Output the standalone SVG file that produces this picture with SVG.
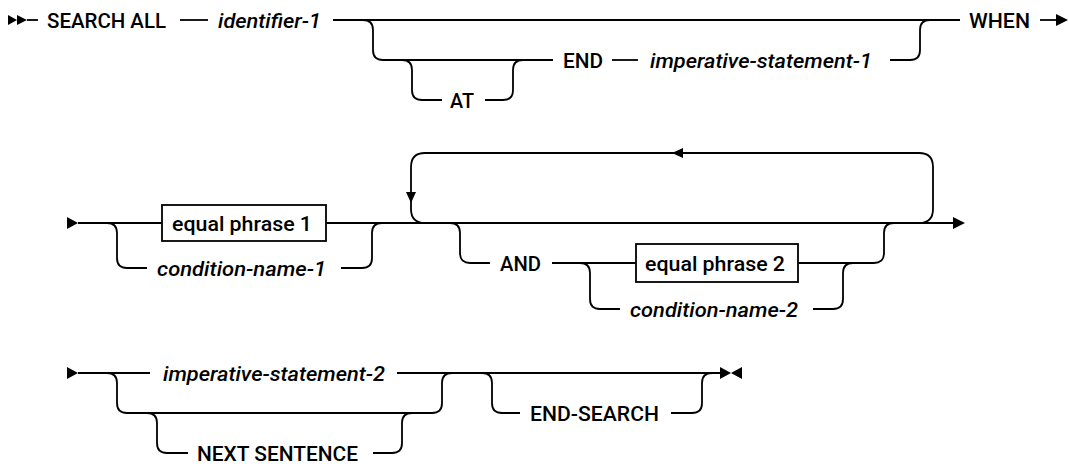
<svg xmlns="http://www.w3.org/2000/svg" width="1069" height="464" viewBox="0 0 1069 464">
<style>
.c{fill:none;stroke:#000;stroke-width:1.8}
.a{fill:#000;stroke:none}
.t{font-family:Roboto,"Liberation Sans",sans-serif;font-size:21px;font-weight:500;fill:#000}
.i{font-style:italic}
.b{fill:#fff;stroke:#000;stroke-width:1.8}
</style>
<rect width="1069" height="464" fill="#fff"/>
<g id="connectors">
<path class="a" d="M8 15 L17 20 L8 25 Z M17 15 L27 20 L17 25 Z"/>
<path class="c" d="M27 20 H38"/>
<path class="c" d="M180 20 H208"/>
<path class="c" d="M333 20 H960"/>
<path class="c" d="M363 20 Q373 20 373 30 V50 Q373 60 383 60 H553"/>
<path class="c" d="M402 60 Q412 60 412 70 V90 Q412 100 422 100 H442"/>
<path class="c" d="M485 100 H503 Q513 100 513 90 V70 Q513 60 523 60"/>
<path class="c" d="M612 60 H638"/>
<path class="c" d="M890 60 H910 Q920 60 920 50 V30 Q920 20 930 20"/>
<path class="c" d="M1040 20 H1058"/>
<path class="a" d="M1056 14 L1068 20 L1056 26 Z"/>
<path class="a" d="M67 217 L78 223 L67 229 Z"/>
<path class="c" d="M78 223 H162"/>
<path class="c" d="M326 223 H955"/>
<path class="a" d="M953 217 L965 223 L953 229 Z"/>
<path class="c" d="M107 223 Q117 223 117 233 V258 Q117 268 127 268 H147"/>
<path class="c" d="M341 268 H362 Q372 268 372 258 V233 Q372 223 382 223"/>
<path class="c" d="M919 223 Q933 223 933 209 V167 Q933 153 919 153 H425 Q411 153 411 167 V209 Q411 223 425 223"/>
<path class="a" d="M683 148 L672 153 L683 158 Z"/>
<path class="a" d="M406 192 L411 203 L416 192 Z"/>
<path class="c" d="M450 223 Q460 223 460 233 V253 Q460 263 470 263 H490"/>
<path class="c" d="M552 263 H636"/>
<path class="c" d="M580 263 Q590 263 590 273 V299 Q590 309 600 309 H620"/>
<path class="c" d="M813 309 H833 Q843 309 843 299 V273 Q843 263 853 263"/>
<path class="c" d="M798 263 H874 Q884 263 884 253 V233 Q884 223 894 223"/>
<path class="a" d="M67 367 L78 373 L67 379 Z"/>
<path class="c" d="M78 373 H150"/>
<path class="c" d="M397 373 H720"/>
<path class="c" d="M107 373 Q117 373 117 383 V403 Q117 413 127 413 H432 Q442 413 442 403 V383 Q442 373 452 373"/>
<path class="c" d="M147 413 Q157 413 157 423 V443 Q157 453 167 453 H188"/>
<path class="c" d="M373 453 H392 Q402 453 402 443 V423 Q402 413 412 413"/>
<path class="c" d="M482 373 Q492 373 492 383 V403 Q492 413 502 413 H520"/>
<path class="c" d="M671 413 H692 Q702 413 702 403 V383 Q702 373 712 373"/>
<path class="a" d="M720 367 L731 373 L720 379 Z M742 367 L731 373 L742 379 Z"/>
</g>
<g id="n-search-all"><text class="t" x="47" y="27.5" textLength="119" lengthAdjust="spacingAndGlyphs">SEARCH ALL</text></g>
<g id="n-identifier-1"><text class="t i" x="218" y="27.5" textLength="103" lengthAdjust="spacingAndGlyphs">identifier-1</text></g>
<g id="n-at"><text class="t" x="450" y="107.5" textLength="24" lengthAdjust="spacingAndGlyphs">AT</text></g>
<g id="n-end"><text class="t" x="563" y="67.5" textLength="40" lengthAdjust="spacingAndGlyphs">END</text></g>
<g id="n-imperative-statement-1"><text class="t i" x="650" y="67.5" textLength="222" lengthAdjust="spacingAndGlyphs">imperative-statement-1</text></g>
<g id="n-when"><text class="t" x="969" y="27.5" textLength="61" lengthAdjust="spacingAndGlyphs">WHEN</text></g>
<g id="n-equal-phrase-1"><rect class="b" x="162" y="205" width="164" height="36"/><text class="t" x="172" y="230.5" textLength="140" lengthAdjust="spacingAndGlyphs">equal phrase 1</text></g>
<g id="n-condition-name-1"><text class="t i" x="157" y="275.5" textLength="169" lengthAdjust="spacingAndGlyphs">condition-name-1</text></g>
<g id="n-and"><text class="t" x="500" y="270.5" textLength="41" lengthAdjust="spacingAndGlyphs">AND</text></g>
<g id="n-equal-phrase-2"><rect class="b" x="636" y="244" width="162" height="38"/><text class="t" x="645" y="270.5" textLength="140" lengthAdjust="spacingAndGlyphs">equal phrase 2</text></g>
<g id="n-condition-name-2"><text class="t i" x="630" y="316.5" textLength="168" lengthAdjust="spacingAndGlyphs">condition-name-2</text></g>
<g id="n-imperative-statement-2"><text class="t i" x="163" y="380.5" textLength="222" lengthAdjust="spacingAndGlyphs">imperative-statement-2</text></g>
<g id="n-next-sentence"><text class="t" x="197" y="460.5" textLength="161" lengthAdjust="spacingAndGlyphs">NEXT SENTENCE</text></g>
<g id="n-end-search"><text class="t" x="530" y="420.5" textLength="129" lengthAdjust="spacingAndGlyphs">END-SEARCH</text></g>
</svg>
